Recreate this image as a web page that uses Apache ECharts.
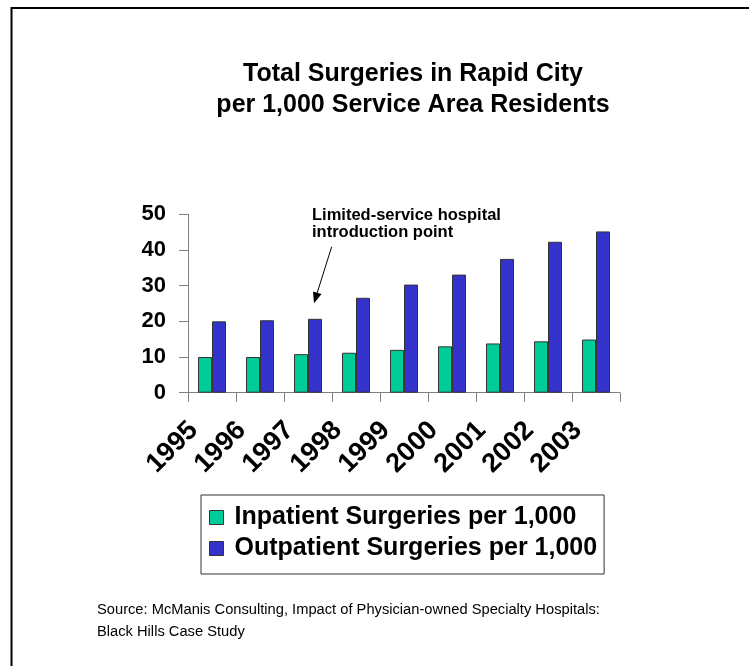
<!DOCTYPE html>
<html>
<head>
<meta charset="utf-8">
<script src="https://cdn.jsdelivr.net/npm/echarts@6/dist/echarts.min.js"></script>
<style>
html,body{margin:0;padding:0;background:#fff;}
#chart{width:749px;height:666px;}
</style>
</head>
<body>
<div id="chart"></div>
<script>
const years = ['1995','1996','1997','1998','1999','2000','2001','2002','2003'];
const inpatient = [10.0, 10.0, 10.8, 11.2, 12.0, 13.0, 13.8, 14.4, 14.9];
const outpatient = [20.0, 20.3, 20.7, 26.6, 30.3, 33.1, 37.5, 42.3, 45.2];
const yTicks = [0, 10, 20, 30, 40, 50];
const seriesNames = ['Inpatient Surgeries per 1,000', 'Outpatient Surgeries per 1,000'];
const titleText = 'Total Surgeries in Rapid City\nper 1,000 Service Area Residents';
const noteText = 'Limited-service hospital\nintroduction point';
const sourceText = 'Source: McManis Consulting, Impact of Physician-owned Specialty Hospitals:\nBlack Hills Case Study';

const FONT = '"Liberation Sans", Arial, sans-serif';
const chart = echarts.init(document.getElementById('chart'), null, {renderer: 'canvas'});

const option = {
  backgroundColor: '#ffffff',
  animation: false,
  title: {
    text: titleText,
    left: 413,
    top: 58,
    textAlign: 'center',
    padding: 0,
    textStyle: {fontFamily: FONT, fontWeight: 'bold', fontSize: 25, lineHeight: 31.7, color: '#000', align: 'center'}
  },
  legend: {
    orient: 'vertical',
    left: 201,
    top: 495,
    padding: [10, 7, 13, 8],
    itemGap: 6,
    itemWidth: 14,
    itemHeight: 14,
    icon: 'rect',
    borderColor: '#333',
    borderWidth: 1,
    data: seriesNames,
    itemStyle: {borderColor: '#333', borderWidth: 1},
    textStyle: {fontFamily: FONT, fontWeight: 'bold', fontSize: 25, color: '#000', padding: [0, 0, 0, 6]}
  },
  grid: {left: 188, right: 129, top: 214.3, bottom: 273.3, containLabel: false},
  xAxis: {
    type: 'category',
    data: years,
    boundaryGap: true,
    axisLine: {show: true, lineStyle: {color: '#808080', width: 1}},
    axisTick: {show: true, length: 9, lineStyle: {color: '#808080'}},
    axisLabel: {rotate: 45, margin: 15, padding: [0, 26, 0, 0], fontFamily: FONT, fontWeight: 'bold', fontSize: 27, color: '#000', interval: 0},
    splitLine: {show: false}
  },
  yAxis: {
    type: 'value',
    min: yTicks[0],
    max: yTicks[yTicks.length - 1],
    interval: 10,
    axisLine: {show: true, lineStyle: {color: '#808080', width: 1}},
    axisTick: {show: true, length: 9, lineStyle: {color: '#808080'}},
    axisLabel: {margin: 22, fontFamily: FONT, fontWeight: 'bold', fontSize: 22, color: '#000'},
    splitLine: {show: false}
  },
  series: [
    {
      name: seriesNames[0], type: 'bar', data: inpatient, barWidth: 14, barGap: '0%',
      itemStyle: {color: '#00CC99', borderColor: '#333', borderWidth: 1}
    },
    {
      name: seriesNames[1], type: 'bar', data: outpatient, barWidth: 14, barGap: '0%',
      itemStyle: {color: '#3333CC', borderColor: '#333', borderWidth: 1}
    }
  ],
  graphic: [
    {type: 'polyline', shape: {points: [[11.5, 666], [11.5, 8], [749, 8]]}, style: {stroke: '#000', lineWidth: 2, fill: null}},
    {type: 'text', left: 312, top: 206.5, style: {text: noteText, font: 'bold 16.5px ' + FONT, lineHeight: 17.3, fill: '#000'}},
    {type: 'line', shape: {x1: 331.7, y1: 246.7, x2: 316.5, y2: 295}, style: {stroke: '#000', lineWidth: 1}},
    {type: 'polygon', shape: {points: [[314, 303.3], [321.6, 294.1], [313.0, 291.5]]}, style: {fill: '#000'}},
    {type: 'text', left: 97, top: 599, style: {text: sourceText, font: '14.7px ' + FONT, lineHeight: 22, fill: '#000'}}
  ]
};
chart.setOption(option);
</script>
</body>
</html>
